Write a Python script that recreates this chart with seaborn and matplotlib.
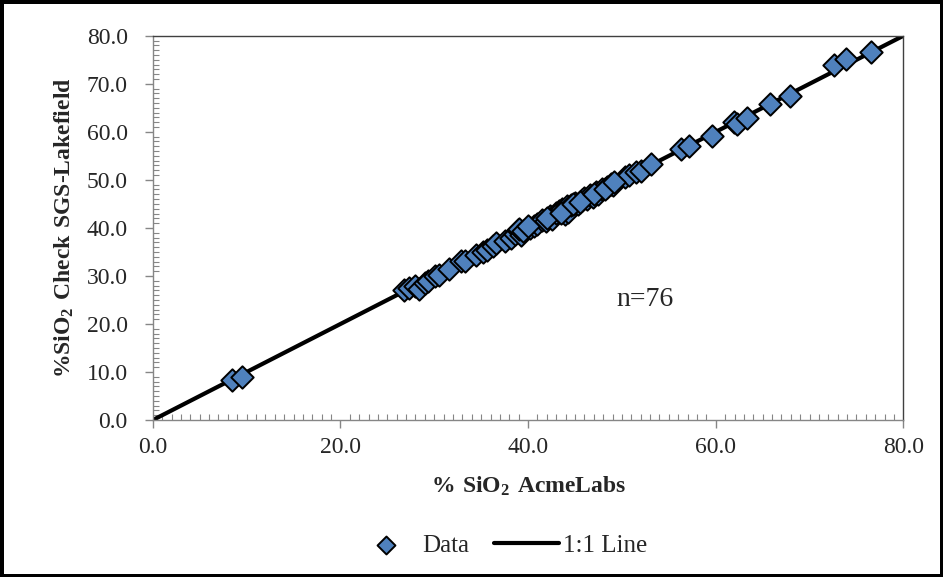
import numpy as np
import pandas as pd
import seaborn as sns
import matplotlib
matplotlib.use("Agg")
import matplotlib.pyplot as plt
from matplotlib.ticker import MultipleLocator, FormatStrFormatter

# % SiO2 AcmeLabs (x) vs check assays SGS-Lakefield (y)
acme = [8.4, 9.5, 26.8, 27.3, 28.0, 28.4, 29.0, 29.3, 30.1, 30.5,
        31.6, 32.9, 33.3, 34.5, 35.2, 35.6, 36.3, 36.6, 37.5, 38.2,
        38.6, 38.9, 39.2, 39.0, 40.2, 40.6, 41.0, 41.5, 41.9, 42.3,
        42.6, 43.0, 43.3, 43.6, 43.9, 44.1, 44.3, 44.6, 45.0, 45.3,
        45.7, 46.0, 46.3, 46.6, 46.9, 47.2, 47.5, 47.9, 48.4, 48.8,
        49.0, 50.3, 50.8, 51.5, 52.0, 53.1, 56.3, 57.2, 59.6, 61.9,
        62.3, 63.3, 65.8, 67.9, 72.6, 73.9, 76.6, 39.5, 40.0, 42.0,
        43.5, 44.8, 45.5, 47.0, 48.2, 49.2]
sgs = [8.3, 9.0, 27.0, 27.5, 27.9, 27.2, 28.6, 29.0, 30.0, 30.3,
       31.4, 33.1, 33.2, 34.3, 35.0, 35.4, 36.2, 36.8, 37.3, 38.0,
       38.7, 39.5, 38.6, 39.8, 40.0, 40.5, 40.9, 41.6, 41.5, 42.4,
       41.9, 43.2, 43.5, 43.9, 43.0, 44.5, 43.4, 44.7, 45.2, 45.0,
       45.9, 46.3, 46.0, 46.9, 46.5, 47.4, 47.1, 48.0, 48.6, 49.2,
       48.9, 50.5, 51.0, 51.7, 51.8, 53.4, 56.4, 57.0, 59.1, 62.1,
       61.7, 62.8, 65.9, 67.5, 74.0, 75.2, 76.6, 39.3, 40.3, 42.0,
       43.2, 44.9, 45.4, 47.0, 48.1, 49.5]
line_x = [0.0, 80.0]
line_y = [0.0, 80.0]
n_label = "n=76"

df = pd.DataFrame({"acme": acme, "sgs": sgs})
df_line = pd.DataFrame({"x": line_x, "y": line_y})

sns.set_style("white")
plt.rcParams['font.family'] = ['Liberation Serif', 'DejaVu Serif']
plt.rcParams['mathtext.fontset'] = 'custom'
plt.rcParams['mathtext.rm'] = 'Liberation Serif'
plt.rcParams['mathtext.bf'] = 'Liberation Serif:bold'

fig = plt.figure(figsize=(9.43, 5.77), dpi=100, edgecolor='black', linewidth=5)
ax = fig.add_axes([0.162, 0.272, 0.796, 0.666])

sns.lineplot(data=df_line, x="x", y="y", color='black', linewidth=3.0,
             label='1:1 Line', ax=ax, zorder=2)
sns.scatterplot(data=df, x="acme", y="sgs", marker='D', s=130,
                color='#4F81BD', edgecolor='black', linewidth=1.4,
                label='Data', ax=ax, zorder=3)

ax.set_xlim(0, 80)
ax.set_ylim(0, 80)
ax.xaxis.set_major_locator(MultipleLocator(20))
ax.yaxis.set_major_locator(MultipleLocator(10))
ax.xaxis.set_minor_locator(MultipleLocator(1))
ax.yaxis.set_minor_locator(MultipleLocator(1))
ax.xaxis.set_major_formatter(FormatStrFormatter('%.1f'))
ax.yaxis.set_major_formatter(FormatStrFormatter('%.1f'))
ax.tick_params(which='major', direction='out', length=6, width=1,
               color='#868686', labelsize=17, bottom=True, left=True)
ax.tick_params(which='minor', direction='in', length=4, width=0.8,
               color='#868686', bottom=True, left=True)
ax.tick_params(axis='x', which='major', pad=6)
ax.tick_params(axis='y', which='major', pad=12)

for side in ['left', 'bottom']:
    ax.spines[side].set_color('#868686')
    ax.spines[side].set_linewidth(1)
for side in ['top', 'right']:
    ax.spines[side].set_color('#404040')
    ax.spines[side].set_linewidth(1)

ax.set_xlabel(r'$\mathbf{\%\ SiO_2\ AcmeLabs}$', fontsize=17, labelpad=12)
ax.set_ylabel(r'$\mathbf{\%SiO_2\ Check\ SGS\text{-}Lakefield}$', fontsize=17, labelpad=8)

ax.text(52.5, 25, n_label, fontsize=20, ha='center', va='center')

ax.get_legend().remove()
handles, labels = ax.get_legend_handles_labels()
order = [labels.index('Data'), labels.index('1:1 Line')]
fig.legend([handles[i] for i in order], [labels[i] for i in order],
           loc='center', bbox_to_anchor=(500 / 943, 0.055), ncol=2,
           frameon=False, fontsize=18, handlelength=2.6, columnspacing=1.0,
           handletextpad=0.15, markerscale=0.8)

fig.savefig('out.png', dpi=100)
